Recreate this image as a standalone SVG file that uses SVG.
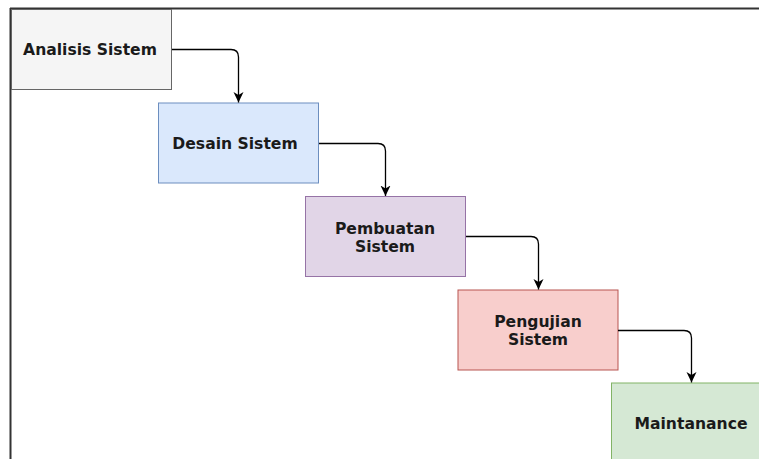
<svg xmlns="http://www.w3.org/2000/svg" width="759" height="459" viewBox="0 0 759 459">
<defs>
<style>
.box{stroke-width:1}
.lbl{font-family:"DejaVu Sans",Verdana,sans-serif;font-weight:bold;font-size:15.6px;fill:#1a1a1a;text-anchor:middle}
.conn{fill:none;stroke:#000;stroke-width:1.3}
</style>
<marker id="arr" markerWidth="12" markerHeight="12" viewBox="0 0 12 12" refX="10.5" refY="6" orient="auto" markerUnits="userSpaceOnUse">
<path d="M0,1 L10.5,6 L0,11 L3,6 Z" fill="#000"/>
</marker>
</defs>
<rect width="759" height="459" fill="#fff"/>
<g id="frame">
<line x1="10" y1="8.5" x2="759" y2="8.5" stroke="#333" stroke-width="2"/>
<line x1="10.5" y1="8" x2="10.5" y2="459" stroke="#333" stroke-width="2"/>
</g>
<g id="n1"><rect class="box" x="11.5" y="9.5" width="160" height="80" fill="#f5f5f5" stroke="#666"/><text class="lbl" x="90" y="55">Analisis Sistem</text></g>
<g id="n2"><rect class="box" x="158.5" y="103" width="160" height="80" fill="#dae8fc" stroke="#6c8ebf"/><text class="lbl" x="235" y="149">Desain Sistem</text></g>
<g id="n3"><rect class="box" x="305.5" y="196.5" width="160" height="80" fill="#e1d5e7" stroke="#9673a6"/><text class="lbl" x="385" y="234">Pembuatan</text><text class="lbl" x="385" y="252">Sistem</text></g>
<g id="n4"><rect class="box" x="458" y="290" width="160" height="80" fill="#f8cecc" stroke="#b85450"/><text class="lbl" x="538" y="327">Pengujian</text><text class="lbl" x="538" y="345">Sistem</text></g>
<g id="n5"><rect class="box" x="611.5" y="383" width="160" height="80" fill="#d5e8d4" stroke="#82b366"/><text class="lbl" x="691" y="429">Maintanance</text></g>
<g id="connectors">
<path class="conn" d="M172,49.5 H231 Q238.5,49.5 238.5,57 V102.5" marker-end="url(#arr)"/>
<path class="conn" d="M319,143.5 H378 Q385.5,143.5 385.5,151 V196" marker-end="url(#arr)"/>
<path class="conn" d="M466,236.5 H531 Q538.5,236.5 538.5,244 V289.5" marker-end="url(#arr)"/>
<path class="conn" d="M618,330.5 H684 Q691.5,330.5 691.5,338 V382.5" marker-end="url(#arr)"/>
</g>
</svg>
